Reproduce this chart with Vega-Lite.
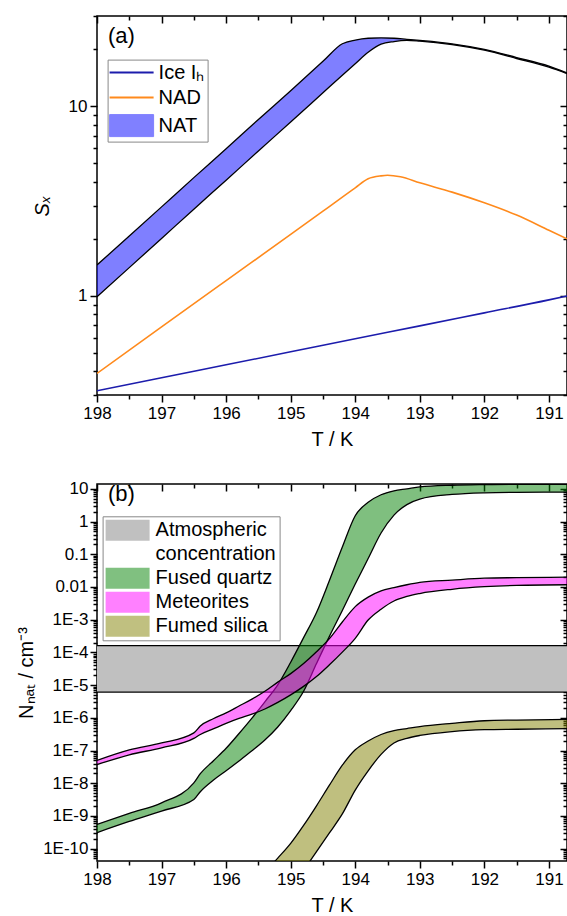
{
  "$schema": "https://vega.github.io/schema/vega-lite/v6.json",
  "background": "white",
  "padding": {"left": 15, "top": 14, "right": 0, "bottom": 0},
  "bounds": "flush",
  "spacing": 89,
  "config": {
    "font": "Liberation Sans",
    "view": {"stroke": "black", "strokeWidth": 1.5},
    "axis": {"domain": false, "tickColor": "black", "labelColor": "black", "titleColor": "black", "tickWidth": 1.5, "labelFontSize": 17, "titleFontSize": 20, "titleFontWeight": "normal", "grid": false, "labelOverlap": false, "labelFlush": false, "labelBound": false},
    "legend": {"labelFontSize": 20, "labelColor": "black", "labelFont": "Liberation Sans", "labelLimit": 300}
  },
  "resolve": {"scale": {"color": "independent", "x": "independent", "y": "independent"}, "legend": {"color": "independent"}},
  "datasets": {
    "natA": [
      {"T": 198, "lo": 0.99, "hi": 1.456},
      {"T": 197.5, "lo": 1.41, "hi": 2.07},
      {"T": 197, "lo": 2.01, "hi": 2.95},
      {"T": 196.5, "lo": 2.87, "hi": 4.21},
      {"T": 196, "lo": 4.08, "hi": 5.98},
      {"T": 195.5, "lo": 5.82, "hi": 8.53},
      {"T": 195, "lo": 8.27, "hi": 12.1},
      {"T": 194.5, "lo": 11.8, "hi": 17.3},
      {"T": 194.2, "lo": 14.6, "hi": 21.4},
      {"T": 194, "lo": 16.8, "hi": 22.4},
      {"T": 193.8, "lo": 19.3, "hi": 22.9},
      {"T": 193.6, "lo": 21.3, "hi": 23.0},
      {"T": 193.4, "lo": 22.0, "hi": 22.9},
      {"T": 193.2, "lo": 22.3, "hi": 22.6},
      {"T": 193, "lo": 22.1, "hi": 22.3},
      {"T": 192.5, "lo": 21.2, "hi": 21.4},
      {"T": 192, "lo": 19.8, "hi": 20.0},
      {"T": 191.5, "lo": 17.9, "hi": 18.1},
      {"T": 191, "lo": 16.1, "hi": 16.3},
      {"T": 190.72, "lo": 14.9, "hi": 15.0}
    ],
    "linesA": [
      {"s": "Ice Iₕ", "T": 198, "v": 0.316},
      {"s": "Ice Iₕ", "T": 197, "v": 0.37},
      {"s": "Ice Iₕ", "T": 196, "v": 0.433},
      {"s": "Ice Iₕ", "T": 195, "v": 0.507},
      {"s": "Ice Iₕ", "T": 194, "v": 0.594},
      {"s": "Ice Iₕ", "T": 193, "v": 0.695},
      {"s": "Ice Iₕ", "T": 192, "v": 0.814},
      {"s": "Ice Iₕ", "T": 191, "v": 0.953},
      {"s": "Ice Iₕ", "T": 190.72, "v": 1.0},
      {"s": "NAD", "T": 198, "v": 0.39},
      {"s": "NAD", "T": 197, "v": 0.687},
      {"s": "NAD", "T": 196, "v": 1.205},
      {"s": "NAD", "T": 195, "v": 2.11},
      {"s": "NAD", "T": 194.5, "v": 2.8},
      {"s": "NAD", "T": 194, "v": 3.72},
      {"s": "NAD", "T": 193.8, "v": 4.15},
      {"s": "NAD", "T": 193.6, "v": 4.3},
      {"s": "NAD", "T": 193.5, "v": 4.33},
      {"s": "NAD", "T": 193.3, "v": 4.25},
      {"s": "NAD", "T": 193, "v": 3.95},
      {"s": "NAD", "T": 192.5, "v": 3.53},
      {"s": "NAD", "T": 192, "v": 3.1},
      {"s": "NAD", "T": 191.5, "v": 2.67},
      {"s": "NAD", "T": 191, "v": 2.22},
      {"s": "NAD", "T": 190.72, "v": 2.0}
    ],
    "labA": [{"label": "(a)", "T": 197.83, "v": 23.4}],
    "band": [{"g": "Atmospheric concentration", "lo": 6.1e-6, "hi": 1.62e-4}],
    "fq": [
      {"T": 198, "lo": 3.09e-10, "hi": 5.5e-10},
      {"T": 197.5, "lo": 6.76e-10, "hi": 1.2e-9},
      {"T": 197, "lo": 1.41e-9, "hi": 2.51e-9},
      {"T": 196.5, "lo": 3.16e-9, "hi": 1.02e-8},
      {"T": 196.4, "lo": 5.5e-9, "hi": 1.95e-8},
      {"T": 196.2, "lo": 1.23e-8, "hi": 4.79e-8},
      {"T": 196.0, "lo": 2.4e-8, "hi": 1.17e-7},
      {"T": 195.8, "lo": 4.79e-8, "hi": 3.31e-7},
      {"T": 195.6, "lo": 9.77e-8, "hi": 9.77e-7},
      {"T": 195.4, "lo": 2.09e-7, "hi": 3.09e-6},
      {"T": 195.2, "lo": 5.25e-7, "hi": 1.02e-5},
      {"T": 195.0, "lo": 1.66e-6, "hi": 5.01e-5},
      {"T": 194.8, "lo": 6.46e-6, "hi": 2.82e-4},
      {"T": 194.6, "lo": 4.57e-5, "hi": 1.66e-3},
      {"T": 194.4, "lo": 3.09e-4, "hi": 1.58e-2},
      {"T": 194.2, "lo": 1.91e-3, "hi": 0.166},
      {"T": 194.0, "lo": 1.23e-2, "hi": 1.51},
      {"T": 193.8, "lo": 7.41e-2, "hi": 3.89},
      {"T": 193.6, "lo": 0.447, "hi": 6.61},
      {"T": 193.4, "lo": 1.58, "hi": 8.71},
      {"T": 193.2, "lo": 3.31, "hi": 10.0},
      {"T": 193.0, "lo": 4.9, "hi": 11.5},
      {"T": 192.5, "lo": 6.76, "hi": 12.9},
      {"T": 192.0, "lo": 7.59, "hi": 13.5},
      {"T": 191.5, "lo": 7.85, "hi": 13.8},
      {"T": 190.72, "lo": 7.94, "hi": 13.8}
    ],
    "met": [
      {"T": 198, "lo": 3.72e-8, "hi": 5.01e-8},
      {"T": 197.5, "lo": 7.41e-8, "hi": 1.05e-7},
      {"T": 197, "lo": 1.2e-7, "hi": 1.7e-7},
      {"T": 196.5, "lo": 2.34e-7, "hi": 3.47e-7},
      {"T": 196.4, "lo": 3.09e-7, "hi": 5.62e-7},
      {"T": 196.2, "lo": 4.57e-7, "hi": 9.33e-7},
      {"T": 196.0, "lo": 6.76e-7, "hi": 1.41e-6},
      {"T": 195.8, "lo": 9.55e-7, "hi": 2.29e-6},
      {"T": 195.6, "lo": 1.29e-6, "hi": 3.72e-6},
      {"T": 195.4, "lo": 1.86e-6, "hi": 6.46e-6},
      {"T": 195.2, "lo": 2.95e-6, "hi": 1.23e-5},
      {"T": 195.0, "lo": 5.01e-6, "hi": 2.24e-5},
      {"T": 194.8, "lo": 9.12e-6, "hi": 4.57e-5},
      {"T": 194.6, "lo": 1.82e-5, "hi": 1.05e-4},
      {"T": 194.4, "lo": 4.17e-5, "hi": 2.63e-4},
      {"T": 194.2, "lo": 1.02e-4, "hi": 8.51e-4},
      {"T": 194.0, "lo": 2.69e-4, "hi": 2.51e-3},
      {"T": 193.8, "lo": 9.77e-4, "hi": 4.9e-3},
      {"T": 193.6, "lo": 2.09e-3, "hi": 7.59e-3},
      {"T": 193.4, "lo": 3.72e-3, "hi": 9.55e-3},
      {"T": 193.2, "lo": 5.13e-3, "hi": 1.17e-2},
      {"T": 193.0, "lo": 6.31e-3, "hi": 1.38e-2},
      {"T": 192.5, "lo": 8.51e-3, "hi": 1.62e-2},
      {"T": 192.0, "lo": 1.02e-2, "hi": 1.86e-2},
      {"T": 191.5, "lo": 1.12e-2, "hi": 1.93e-2},
      {"T": 190.72, "lo": 1.17e-2, "hi": 2.0e-2}
    ],
    "fs": [
      {"T": 195.6, "lo": 3.16e-13, "hi": 6.31e-12},
      {"T": 195.4, "lo": 1e-12, "hi": 1.86e-11},
      {"T": 195.2, "lo": 1.58e-12, "hi": 5.13e-11},
      {"T": 195.0, "lo": 5.62e-12, "hi": 1.45e-10},
      {"T": 194.8, "lo": 2.14e-11, "hi": 5.13e-10},
      {"T": 194.6, "lo": 8.13e-11, "hi": 2.04e-9},
      {"T": 194.4, "lo": 3.02e-10, "hi": 8.71e-9},
      {"T": 194.2, "lo": 1.15e-9, "hi": 3.55e-8},
      {"T": 194.0, "lo": 6.17e-9, "hi": 1.05e-7},
      {"T": 193.8, "lo": 2.4e-8, "hi": 1.95e-7},
      {"T": 193.6, "lo": 7.59e-8, "hi": 3.09e-7},
      {"T": 193.4, "lo": 1.7e-7, "hi": 4.07e-7},
      {"T": 193.2, "lo": 2.34e-7, "hi": 4.68e-7},
      {"T": 193.0, "lo": 2.88e-7, "hi": 5.37e-7},
      {"T": 192.5, "lo": 3.8e-7, "hi": 6.76e-7},
      {"T": 192.0, "lo": 4.32e-7, "hi": 8.13e-7},
      {"T": 191.5, "lo": 4.47e-7, "hi": 8.51e-7},
      {"T": 190.72, "lo": 4.68e-7, "hi": 8.91e-7}
    ],
    "labB": [{"label": "(b)", "T": 197.83, "v": 6.8}]
  },
  "vconcat": [
    {
      "width": 470,
      "height": 379,
      "resolve": {"axis": {"x": "independent", "y": "independent"}},
      "layer": [
        {
          "data": {"name": "natA"},
          "mark": {"type": "area", "fill": "#0000FF", "fillOpacity": 0.5, "interpolate": "monotone", "clip": true},
          "encoding": {
            "x": {"field": "T", "type": "quantitative", "scale": {"domain": [190.72, 198], "reverse": true, "nice": false, "zero": false},
              "axis": {"orient": "bottom", "values": [191, 192, 193, 194, 195, 196, 197, 198], "labelExpr": "datum.value + ''", "tickSize": 7, "title": "T / K", "labelPadding": 3, "titlePadding": 8}},
            "y": {"field": "hi", "type": "quantitative", "scale": {"type": "log", "domain": [0.3, 30], "nice": false},
              "axis": {"orient": "left", "values": [1, 10], "labelExpr": "datum.value + ''", "tickSize": 7, "title": "Sₓ", "titleFontStyle": "italic", "labelPadding": 3, "titlePadding": 16}},
            "y2": {"field": "lo"}
          }
        },
        {
          "data": {"name": "natA"},
          "mark": {"type": "line", "color": "black", "strokeWidth": 1.3, "interpolate": "monotone", "clip": true},
          "encoding": {
            "x": {"field": "T", "type": "quantitative", "scale": {"domain": [190.72, 198], "reverse": true, "nice": false, "zero": false},
              "axis": {"orient": "bottom", "values": [191.5, 192.5, 193.5, 194.5, 195.5, 196.5, 197.5], "labels": false, "tickSize": 4, "title": null}},
            "y": {"field": "hi", "type": "quantitative", "scale": {"type": "log", "domain": [0.3, 30], "nice": false},
              "axis": {"orient": "left", "values": [0.3, 0.4, 0.5, 0.6, 0.7, 0.8, 0.9, 2, 3, 4, 5, 6, 7, 8, 9, 20, 30], "labels": false, "tickSize": 4, "title": null}}
          }
        },
        {
          "data": {"name": "natA"},
          "mark": {"type": "line", "color": "black", "strokeWidth": 1.3, "interpolate": "monotone", "clip": true},
          "encoding": {
            "x": {"field": "T", "type": "quantitative", "scale": {"domain": [190.72, 198], "reverse": true, "nice": false, "zero": false},
              "axis": {"orient": "top", "offset": -7, "values": [191, 192, 193, 194, 195, 196, 197, 198], "labels": false, "tickSize": 7, "title": null}},
            "y": {"field": "lo", "type": "quantitative", "scale": {"type": "log", "domain": [0.3, 30], "nice": false},
              "axis": {"orient": "right", "offset": -7, "values": [1, 10], "labels": false, "tickSize": 7, "title": null}}
          }
        },
        {
          "data": {"name": "linesA"},
          "mark": {"type": "line", "strokeWidth": 1.6, "interpolate": "monotone", "clip": true},
          "encoding": {
            "x": {"field": "T", "type": "quantitative", "scale": {"domain": [190.72, 198], "reverse": true, "nice": false, "zero": false},
              "axis": {"orient": "top", "offset": -4, "values": [191.5, 192.5, 193.5, 194.5, 195.5, 196.5, 197.5], "labels": false, "tickSize": 4, "title": null}},
            "y": {"field": "v", "type": "quantitative", "scale": {"type": "log", "domain": [0.3, 30], "nice": false},
              "axis": {"orient": "right", "offset": -4, "values": [0.3, 0.4, 0.5, 0.6, 0.7, 0.8, 0.9, 2, 3, 4, 5, 6, 7, 8, 9, 20, 30], "labels": false, "tickSize": 4, "title": null}},
            "color": {"field": "s", "type": "nominal",
              "scale": {"domain": ["Ice Iₕ", "NAD", "NAT"], "range": ["#1C1CAC", "#FF8A1C", "#8080FF"]},
              "legend": {"orient": "none", "legendX": 10.6, "legendY": 43.6, "title": null, "symbolSize": 484, "labelOffset": 28, "rowPadding": 5, "labelFontSize": 20, "padding": 3, "strokeColor": "#888888", "fillColor": "white",
                "encode": {"symbols": {"update": {
                  "shape": {"signal": "datum.value === 'NAT' ? 'M-1,-1H3V1H-1Z' : 'M-1,0H3'"},
                  "fill": {"signal": "datum.value === 'NAT' ? '#8080FF' : 'transparent'"},
                  "stroke": {"signal": "datum.value === 'NAT' ? '#999999' : (datum.value === 'NAD' ? '#FF8A1C' : '#1C1CAC')"},
                  "strokeWidth": {"signal": "datum.value === 'NAT' ? 1 : 2"},
                  "opacity": {"value": 1}, "fillOpacity": {"value": 1}, "strokeOpacity": {"value": 1}
                }}}}
            }
          }
        },
        {
          "data": {"name": "labA"},
          "mark": {"type": "text", "align": "left", "baseline": "middle", "fontSize": 22, "color": "black"},
          "encoding": {
            "x": {"field": "T", "type": "quantitative", "scale": {"domain": [190.72, 198], "reverse": true, "nice": false, "zero": false}, "axis": null},
            "y": {"field": "v", "type": "quantitative", "scale": {"type": "log", "domain": [0.3, 30], "nice": false}, "axis": null},
            "text": {"field": "label"}
          }
        }
      ]
    },
    {
      "width": 470,
      "height": 377,
      "resolve": {"axis": {"x": "independent", "y": "independent"}},
      "layer": [
        {
          "data": {"name": "band"},
          "mark": {"type": "rect", "clip": true},
          "encoding": {
            "x": {"datum": 198, "type": "quantitative", "scale": {"domain": [190.72, 198], "reverse": true, "nice": false, "zero": false},
              "axis": {"orient": "bottom", "values": [191, 192, 193, 194, 195, 196, 197, 198], "labelExpr": "datum.value + ''", "tickSize": 7, "title": "T / K", "labelPadding": 3, "titlePadding": 8}},
            "x2": {"datum": 190.72},
            "y": {"field": "hi", "type": "quantitative", "scale": {"type": "log", "domain": [4.18e-11, 14.1], "nice": false},
              "axis": {"orient": "left", "values": [1e-10, 1e-9, 1e-8, 1e-7, 1e-6, 1e-5, 1e-4, 0.001, 0.01, 0.1, 1, 10],
                "labelExpr": "datum.value >= 0.01 ? datum.value + '' : '1E' + round(log(datum.value)/LN10)",
                "tickSize": 7, "title": "Nₙₐₜ / cm⁻³", "labelPadding": 2, "titlePadding": 6}},
            "y2": {"field": "lo"},
            "color": {"field": "g", "type": "nominal",
              "scale": {"domain": ["Atmospheric concentration", "(cont)", "Fused quartz", "Meteorites", "Fumed silica"], "range": ["#C0C0C0", "transparent", "#80C080", "#FF80FF", "#C0C080"]},
              "legend": {"orient": "none", "legendX": 5.6, "legendY": 32.3, "title": null, "symbolType": "M-1,-0.95H3V0.95H-1Z", "symbolSize": 484, "symbolStrokeWidth": 0, "symbolOpacity": 1, "labelOffset": 28, "rowPadding": 2, "labelFontSize": 20, "padding": 3, "strokeColor": "#888888", "fillColor": "white",
                "labelExpr": "datum.value === 'Atmospheric concentration' ? 'Atmospheric' : (datum.value === '(cont)' ? ' concentration' : datum.label)"}
            }
          }
        },
        {
          "data": {"name": "band"},
          "mark": {"type": "rule", "color": "black", "strokeWidth": 1.3},
          "encoding": {
            "y": {"field": "hi", "type": "quantitative", "scale": {"type": "log", "domain": [4.18e-11, 14.1], "nice": false},
              "axis": {"orient": "left", "values": [5e-11, 6e-11, 7e-11, 8e-11, 9e-11, 2e-10, 3e-10, 4e-10, 5e-10, 6e-10, 7e-10, 8e-10, 9e-10, 2e-9, 3e-9, 4e-9, 5e-9, 6e-9, 7e-9, 8e-9, 9e-9, 2e-8, 3e-8, 4e-8, 5e-8, 6e-8, 7e-8, 8e-8, 9e-8, 2e-7, 3e-7, 4e-7, 5e-7, 6e-7, 7e-7, 8e-7, 9e-7, 2e-6, 3e-6, 4e-6, 5e-6, 6e-6, 7e-6, 8e-6, 9e-6, 2e-5, 3e-5, 4e-5, 5e-5, 6e-5, 7e-5, 8e-5, 9e-5, 2e-4, 3e-4, 4e-4, 5e-4, 6e-4, 7e-4, 8e-4, 9e-4, 0.002, 0.003, 0.004, 0.005, 0.006, 0.007, 0.008, 0.009, 0.02, 0.03, 0.04, 0.05, 0.06, 0.07, 0.08, 0.09, 0.2, 0.3, 0.4, 0.5, 0.6, 0.7, 0.8, 0.9, 2, 3, 4, 5, 6, 7, 8, 9], "labels": false, "tickSize": 4, "title": null}}
          }
        },
        {
          "data": {"name": "band"},
          "mark": {"type": "rule", "color": "black", "strokeWidth": 1.3},
          "encoding": {
            "y": {"field": "lo", "type": "quantitative", "scale": {"type": "log", "domain": [4.18e-11, 14.1], "nice": false},
              "axis": {"orient": "right", "offset": -7, "values": [1e-10, 1e-9, 1e-8, 1e-7, 1e-6, 1e-5, 1e-4, 0.001, 0.01, 0.1, 1, 10], "labels": false, "tickSize": 7, "title": null}}
          }
        },
        {
          "data": {"name": "fq"},
          "mark": {"type": "area", "fill": "#008000", "fillOpacity": 0.5, "interpolate": "monotone", "clip": true},
          "encoding": {
            "x": {"field": "T", "type": "quantitative", "scale": {"domain": [190.72, 198], "reverse": true, "nice": false, "zero": false},
              "axis": {"orient": "bottom", "values": [191.5, 192.5, 193.5, 194.5, 195.5, 196.5, 197.5], "labels": false, "tickSize": 4, "title": null}},
            "y": {"field": "hi", "type": "quantitative", "scale": {"type": "log", "domain": [4.18e-11, 14.1], "nice": false},
              "axis": {"orient": "right", "offset": -4, "values": [5e-11, 6e-11, 7e-11, 8e-11, 9e-11, 2e-10, 3e-10, 4e-10, 5e-10, 6e-10, 7e-10, 8e-10, 9e-10, 2e-9, 3e-9, 4e-9, 5e-9, 6e-9, 7e-9, 8e-9, 9e-9, 2e-8, 3e-8, 4e-8, 5e-8, 6e-8, 7e-8, 8e-8, 9e-8, 2e-7, 3e-7, 4e-7, 5e-7, 6e-7, 7e-7, 8e-7, 9e-7, 2e-6, 3e-6, 4e-6, 5e-6, 6e-6, 7e-6, 8e-6, 9e-6, 2e-5, 3e-5, 4e-5, 5e-5, 6e-5, 7e-5, 8e-5, 9e-5, 2e-4, 3e-4, 4e-4, 5e-4, 6e-4, 7e-4, 8e-4, 9e-4, 0.002, 0.003, 0.004, 0.005, 0.006, 0.007, 0.008, 0.009, 0.02, 0.03, 0.04, 0.05, 0.06, 0.07, 0.08, 0.09, 0.2, 0.3, 0.4, 0.5, 0.6, 0.7, 0.8, 0.9, 2, 3, 4, 5, 6, 7, 8, 9], "labels": false, "tickSize": 4, "title": null}},
            "y2": {"field": "lo"}
          }
        },
        {
          "data": {"name": "fq"},
          "mark": {"type": "line", "color": "black", "strokeWidth": 1.3, "interpolate": "monotone", "clip": true},
          "encoding": {
            "x": {"field": "T", "type": "quantitative", "scale": {"domain": [190.72, 198], "reverse": true, "nice": false, "zero": false},
              "axis": {"orient": "top", "offset": -7, "values": [191, 192, 193, 194, 195, 196, 197, 198], "labels": false, "tickSize": 7, "title": null}},
            "y": {"field": "hi", "type": "quantitative", "scale": {"type": "log", "domain": [4.18e-11, 14.1], "nice": false}, "axis": null}
          }
        },
        {
          "data": {"name": "fq"},
          "mark": {"type": "line", "color": "black", "strokeWidth": 1.3, "interpolate": "monotone", "clip": true},
          "encoding": {
            "x": {"field": "T", "type": "quantitative", "scale": {"domain": [190.72, 198], "reverse": true, "nice": false, "zero": false},
              "axis": {"orient": "top", "offset": -4, "values": [191.5, 192.5, 193.5, 194.5, 195.5, 196.5, 197.5], "labels": false, "tickSize": 4, "title": null}},
            "y": {"field": "lo", "type": "quantitative", "scale": {"type": "log", "domain": [4.18e-11, 14.1], "nice": false}, "axis": null}
          }
        },
        {
          "data": {"name": "met"},
          "mark": {"type": "area", "fill": "#FF00FF", "fillOpacity": 0.5, "interpolate": "monotone", "clip": true},
          "encoding": {
            "x": {"field": "T", "type": "quantitative", "scale": {"domain": [190.72, 198], "reverse": true, "nice": false, "zero": false}, "axis": null},
            "y": {"field": "hi", "type": "quantitative", "scale": {"type": "log", "domain": [4.18e-11, 14.1], "nice": false}, "axis": null},
            "y2": {"field": "lo"}
          }
        },
        {
          "data": {"name": "met"},
          "mark": {"type": "line", "color": "black", "strokeWidth": 1.3, "interpolate": "monotone", "clip": true},
          "encoding": {
            "x": {"field": "T", "type": "quantitative", "scale": {"domain": [190.72, 198], "reverse": true, "nice": false, "zero": false}, "axis": null},
            "y": {"field": "hi", "type": "quantitative", "scale": {"type": "log", "domain": [4.18e-11, 14.1], "nice": false}, "axis": null}
          }
        },
        {
          "data": {"name": "met"},
          "mark": {"type": "line", "color": "black", "strokeWidth": 1.3, "interpolate": "monotone", "clip": true},
          "encoding": {
            "x": {"field": "T", "type": "quantitative", "scale": {"domain": [190.72, 198], "reverse": true, "nice": false, "zero": false}, "axis": null},
            "y": {"field": "lo", "type": "quantitative", "scale": {"type": "log", "domain": [4.18e-11, 14.1], "nice": false}, "axis": null}
          }
        },
        {
          "data": {"name": "fs"},
          "mark": {"type": "area", "fill": "#808000", "fillOpacity": 0.5, "interpolate": "monotone", "clip": true},
          "encoding": {
            "x": {"field": "T", "type": "quantitative", "scale": {"domain": [190.72, 198], "reverse": true, "nice": false, "zero": false}, "axis": null},
            "y": {"field": "hi", "type": "quantitative", "scale": {"type": "log", "domain": [4.18e-11, 14.1], "nice": false}, "axis": null},
            "y2": {"field": "lo"}
          }
        },
        {
          "data": {"name": "fs"},
          "mark": {"type": "line", "color": "black", "strokeWidth": 1.3, "interpolate": "monotone", "clip": true},
          "encoding": {
            "x": {"field": "T", "type": "quantitative", "scale": {"domain": [190.72, 198], "reverse": true, "nice": false, "zero": false}, "axis": null},
            "y": {"field": "hi", "type": "quantitative", "scale": {"type": "log", "domain": [4.18e-11, 14.1], "nice": false}, "axis": null}
          }
        },
        {
          "data": {"name": "fs"},
          "mark": {"type": "line", "color": "black", "strokeWidth": 1.3, "interpolate": "monotone", "clip": true},
          "encoding": {
            "x": {"field": "T", "type": "quantitative", "scale": {"domain": [190.72, 198], "reverse": true, "nice": false, "zero": false}, "axis": null},
            "y": {"field": "lo", "type": "quantitative", "scale": {"type": "log", "domain": [4.18e-11, 14.1], "nice": false}, "axis": null}
          }
        },
        {
          "data": {"name": "labB"},
          "mark": {"type": "text", "align": "left", "baseline": "middle", "fontSize": 22, "color": "black"},
          "encoding": {
            "x": {"field": "T", "type": "quantitative", "scale": {"domain": [190.72, 198], "reverse": true, "nice": false, "zero": false}, "axis": null},
            "y": {"field": "v", "type": "quantitative", "scale": {"type": "log", "domain": [4.18e-11, 14.1], "nice": false}, "axis": null},
            "text": {"field": "label"}
          }
        }
      ]
    }
  ]
}
